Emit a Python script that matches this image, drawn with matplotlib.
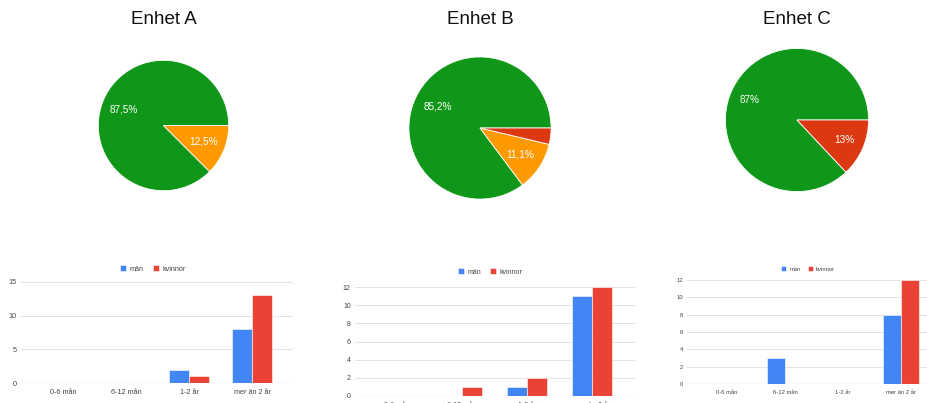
import matplotlib
matplotlib.use("Agg")
import matplotlib.pyplot as plt
import numpy as np

plt.rcParams['font.family'] = ['Liberation Sans', 'DejaVu Sans']

# pie data
units = ["Enhet A", "Enhet B", "Enhet C"]
pie_a = [87.5, 12.5]
pie_b = [85.2, 11.1, 3.7]
pie_c = [87, 13]
labels_a = ["87,5%", "12,5%"]
labels_b = ["85,2%", "11,1%", ""]
labels_c = ["87%", "13%"]
colors_a = ["#109618", "#ff9900"]
colors_b = ["#109618", "#ff9900", "#dc3912"]
colors_c = ["#109618", "#dc3912"]

# bar data
categories = ["0-6 mån", "6-12 mån", "1-2 år", "mer än 2 år"]
man_a = [0, 0, 2, 8]
kvinnor_a = [0, 0, 1, 13]
man_b = [0, 0, 1, 11]
kvinnor_b = [0, 1, 2, 12]
man_c = [0, 3, 0, 8]
kvinnor_c = [0, 0, 0, 12]

W, H = 928, 403
fig = plt.figure(figsize=(W / 100, H / 100), dpi=100)
fig.patch.set_facecolor("white")


def px_axes(left, top, right, bottom):
    return fig.add_axes([left / W, 1 - bottom / H, (right - left) / W, (bottom - top) / H])


def draw_pie(cx, cy, r, values, labels, colors, title, pctdist):
    ax = px_axes(cx - r, cy - r, cx + r, cy + r)
    wedges, texts = ax.pie(values, colors=colors, startangle=0, counterclock=True,
                           labels=labels, labeldistance=pctdist,
                           wedgeprops=dict(edgecolor="white", linewidth=0.6))
    for t in texts:
        t.set_color("white")
        t.set_fontsize(7.2)
        t.set_ha("center")
        t.set_va("center")
    ax.set_xlim(-1.02, 1.02)
    ax.set_ylim(-1.02, 1.02)
    ax.set_aspect("equal")
    fig.text(cx / W, 1 - 20 / H, title, ha="center", va="center", fontsize=13.5, color="#111111")


draw_pie(163.5, 125.5, 66.5, pie_a, labels_a, colors_a, units[0], 0.66)
draw_pie(480, 128, 72.5, pie_b, labels_b, colors_b, units[1], 0.67)
draw_pie(797, 120, 73, pie_c, labels_c, colors_c, units[2], 0.72)


def draw_bars(left, top, right, bottom, xlim, ymax, step, man, kvinnor, legend_xy, fs):
    ax = px_axes(left, top, right, bottom)
    x = np.arange(len(categories))
    w = 0.31
    ax.bar(x - 0.158, man, w, color="#4285f4", edgecolor="white", linewidth=0.4, label="män", zorder=3)
    ax.bar(x + 0.158, kvinnor, w, color="#ea4335", edgecolor="white", linewidth=0.4, label="kvinnor", zorder=3)
    ax.set_xlim(*xlim)
    ax.set_ylim(0, ymax)
    ax.set_yticks(np.arange(0, ymax + 1, step))
    ax.set_xticks(x)
    ax.set_xticklabels(categories)
    ax.grid(axis="y", color="#e3e3e3", linewidth=0.7, zorder=0)
    ax.axhline(0, color="#9e9e9e", linewidth=0.8, zorder=4)
    for s in ax.spines.values():
        s.set_visible(False)
    ax.tick_params(length=0, labelsize=fs, colors="#444444", pad=4)
    ax.tick_params(axis="y", pad=3)
    ax.legend(loc="center", bbox_to_anchor=(legend_xy[0] / W, 1 - legend_xy[1] / H),
              bbox_transform=fig.transFigure, ncol=2, frameon=False, fontsize=fs,
              handlelength=0.9, handleheight=0.9, columnspacing=1.2, handletextpad=0.5,
              labelcolor="#444444")


draw_bars(21, 282, 293, 383, (-0.667, 3.65), 15, 5, man_a, kvinnor_a, (153, 269), 5.2)
draw_bars(355, 287, 636, 396, (-0.65, 3.68), 12, 2, man_b, kvinnor_b, (490, 272), 5.0)
draw_bars(687, 280, 941, 384, (-0.69, 3.69), 12, 2, man_c, kvinnor_c, (808, 269), 4.2)

fig.savefig("out.png", dpi=100, facecolor="white")
